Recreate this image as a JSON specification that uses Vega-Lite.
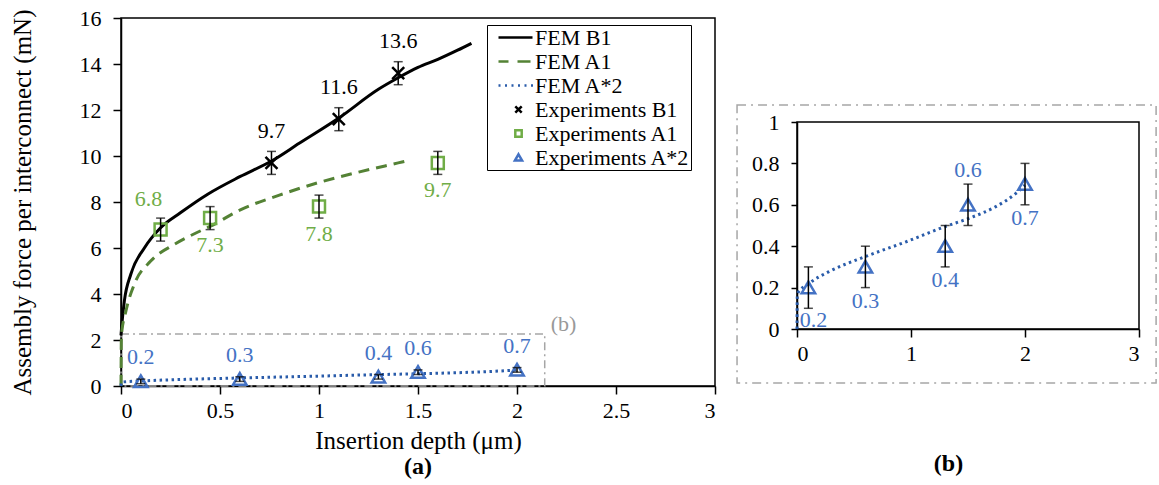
{
  "$schema": "https://vega.github.io/schema/vega-lite/v6.json",
  "background": "white",
  "padding": {"left": 9, "top": 6, "right": 0, "bottom": 0},
  "config": {
    "font": "Liberation Serif",
    "view": {"stroke": "black", "strokeWidth": 1.5},
    "axis": {"labelFont": "Liberation Serif", "titleFont": "Liberation Serif", "labelFontSize": 22, "titleFontSize": 25, "labelColor": "black", "titleColor": "black", "domainColor": "black", "tickColor": "black", "grid": false, "tickSize": 8, "labelPadding": 12, "titleFontWeight": "normal", "domainWidth": 1.5, "tickWidth": 1.5},
    "concat": {"spacing": 18}
  },
  "datasets": {
    "fem": [
      {"series": "FEM B1", "x": 0, "y": 2.2}, {"series": "FEM B1", "x": 0.005, "y": 2.75}, {"series": "FEM B1", "x": 0.017, "y": 3.7}, {"series": "FEM B1", "x": 0.05, "y": 4.87}, {"series": "FEM B1", "x": 0.118, "y": 6.0}, {"series": "FEM B1", "x": 0.2, "y": 6.88}, {"series": "FEM B1", "x": 0.3, "y": 7.53}, {"series": "FEM B1", "x": 0.44, "y": 8.35}, {"series": "FEM B1", "x": 0.6, "y": 9.1}, {"series": "FEM B1", "x": 0.76, "y": 9.78}, {"series": "FEM B1", "x": 0.9, "y": 10.55}, {"series": "FEM B1", "x": 1.1, "y": 11.65}, {"series": "FEM B1", "x": 1.3, "y": 12.9}, {"series": "FEM B1", "x": 1.4, "y": 13.4}, {"series": "FEM B1", "x": 1.5, "y": 13.85}, {"series": "FEM B1", "x": 1.6, "y": 14.2}, {"series": "FEM B1", "x": 1.7, "y": 14.6}, {"series": "FEM B1", "x": 1.77, "y": 14.9},
      {"series": "FEM A1", "x": 0, "y": 0}, {"series": "FEM A1", "x": 0.002, "y": 2.2}, {"series": "FEM A1", "x": 0.025, "y": 3.26}, {"series": "FEM A1", "x": 0.067, "y": 4.42}, {"series": "FEM A1", "x": 0.15, "y": 5.43}, {"series": "FEM A1", "x": 0.27, "y": 6.16}, {"series": "FEM A1", "x": 0.4, "y": 6.74}, {"series": "FEM A1", "x": 0.455, "y": 6.96}, {"series": "FEM A1", "x": 0.6, "y": 7.65}, {"series": "FEM A1", "x": 0.8, "y": 8.3}, {"series": "FEM A1", "x": 1.0, "y": 8.85}, {"series": "FEM A1", "x": 1.2, "y": 9.3}, {"series": "FEM A1", "x": 1.4, "y": 9.7}, {"series": "FEM A1", "x": 1.45, "y": 9.8},
      {"series": "FEM A*2", "x": 0, "y": 0}, {"series": "FEM A*2", "x": 0.003, "y": 0.17}, {"series": "FEM A*2", "x": 0.105, "y": 0.22}, {"series": "FEM A*2", "x": 0.28, "y": 0.277}, {"series": "FEM A*2", "x": 0.6, "y": 0.35}, {"series": "FEM A*2", "x": 0.95, "y": 0.42}, {"series": "FEM A*2", "x": 1.3, "y": 0.495}, {"series": "FEM A*2", "x": 1.51, "y": 0.535}, {"series": "FEM A*2", "x": 1.74, "y": 0.59}, {"series": "FEM A*2", "x": 1.92, "y": 0.655}, {"series": "FEM A*2", "x": 2.0, "y": 0.695}
    ],
    "exp": [
      {"series": "Experiments B1", "x": 0.76, "y": 9.7, "lo": 9.2, "hi": 10.2},
      {"series": "Experiments B1", "x": 1.1, "y": 11.6, "lo": 11.1, "hi": 12.1},
      {"series": "Experiments B1", "x": 1.4, "y": 13.6, "lo": 13.1, "hi": 14.1},
      {"series": "Experiments A1", "x": 0.2, "y": 6.8, "lo": 6.3, "hi": 7.3},
      {"series": "Experiments A1", "x": 0.45, "y": 7.3, "lo": 6.8, "hi": 7.8},
      {"series": "Experiments A1", "x": 1.0, "y": 7.8, "lo": 7.3, "hi": 8.3},
      {"series": "Experiments A1", "x": 1.6, "y": 9.7, "lo": 9.2, "hi": 10.2},
      {"series": "Experiments A*2", "x": 0.1, "y": 0.2, "lo": 0.1, "hi": 0.3},
      {"series": "Experiments A*2", "x": 0.6, "y": 0.3, "lo": 0.2, "hi": 0.4},
      {"series": "Experiments A*2", "x": 1.3, "y": 0.4, "lo": 0.3, "hi": 0.5},
      {"series": "Experiments A*2", "x": 1.5, "y": 0.6, "lo": 0.5, "hi": 0.7},
      {"series": "Experiments A*2", "x": 2.0, "y": 0.7, "lo": 0.6, "hi": 0.8}
    ],
    "zoomBox": [{"x": 0, "x2": 2.14, "y": 0, "y2": 2.26, "label": "(b)"}],
    "insetBox": [{"x": -0.526, "x2": 3.15, "y": -0.261, "y2": 1.082}]
  },
  "resolve": {"scale": {"color": "independent", "shape": "independent"}, "legend": {"color": "independent", "shape": "independent"}},
  "hconcat": [
    {
      "width": 594,
      "height": 368,
      "title": {"text": "(a)", "orient": "bottom", "frame": "group", "offset": 2, "fontSize": 24, "fontWeight": "bold", "font": "Liberation Serif", "color": "black"},
      "encoding": {
        "x": {"field": "x", "type": "quantitative", "title": "Insertion depth (μm)", "scale": {"domain": [0, 3], "nice": false, "zero": false}, "axis": {"values": [0, 0.5, 1, 1.5, 2, 2.5, 3], "format": "~g", "titlePadding": 7, "labelPadding": 6}},
        "y": {"field": "y", "type": "quantitative", "title": "Assembly force per interconnect (mN)", "scale": {"domain": [0, 16], "nice": false, "zero": false}, "axis": {"values": [0, 2, 4, 6, 8, 10, 12, 14, 16], "titlePadding": 44}}
      },
      "layer": [
        {
          "data": {"name": "zoomBox"},
          "mark": {"type": "rect", "fill": null, "fillOpacity": 0, "stroke": "#a6a6a6", "strokeWidth": 1.5, "strokeDash": [8, 4, 2, 4]},
          "encoding": {"x2": {"field": "x2"}, "y2": {"field": "y2"}}
        },
        {
          "data": {"name": "zoomBox"},
          "mark": {"type": "text", "align": "left", "baseline": "middle", "dx": 6, "dy": -10, "fontSize": 22, "font": "Liberation Serif", "color": "#999999"},
          "encoding": {"x": {"field": "x2", "type": "quantitative", "title": "Insertion depth (μm)"}, "y": {"field": "y2", "type": "quantitative", "title": "Assembly force per interconnect (mN)"}, "text": {"field": "label"}}
        },
        {
          "data": {"name": "fem"},
          "transform": [{"filter": "datum.series == 'FEM B1'"}],
          "mark": {"type": "line", "color": "black", "strokeWidth": 3, "interpolate": "monotone"}
        },
        {
          "data": {"name": "fem"},
          "transform": [{"filter": "datum.series == 'FEM A1'"}],
          "mark": {"type": "line", "color": "#548235", "strokeWidth": 3, "strokeDash": [11, 7], "interpolate": "monotone"}
        },
        {
          "data": {"name": "fem"},
          "transform": [{"filter": "datum.series == 'FEM A*2'"}],
          "mark": {"type": "line", "color": "#2a5caa", "strokeWidth": 3, "strokeDash": [2.5, 3.5], "interpolate": "monotone"}
        },
        {
          "data": {"name": "exp"},
          "mark": {"type": "point", "filled": false, "size": 1400, "strokeWidth": 2.5, "opacity": 1},
          "encoding": {
            "color": {"field": "series", "type": "nominal",
              "scale": {"domain": ["FEM B1", "FEM A1", "FEM A*2", "Experiments B1", "Experiments A1", "Experiments A*2"], "range": ["#000000", "#548235", "#2a5caa", "#000000", "#70ad47", "#4472c4"]},
              "legend": {"title": null, "orient": "none", "legendX": 366, "legendY": 7, "strokeColor": "black", "fillColor": "white", "padding": 1, "symbolSize": 400, "symbolStrokeWidth": 2.5, "symbolOffset": 19, "labelOffset": 5, "labelFont": "Liberation Serif", "labelFontSize": 22, "labelColor": "black", "rowPadding": 1, "labelLimit": 300}},
            "shape": {"field": "series", "type": "nominal",
              "scale": {"domain": ["FEM B1", "FEM A1", "FEM A*2", "Experiments B1", "Experiments A1", "Experiments A*2"], "range": ["M-2,0H1.4", "M-2,0H-1M-0.1,0H1.2", "M-2,0h0.2M-1.35,0h0.2M-0.7,0h0.2M-0.05,0h0.2M0.6,0h0.2M1.25,0h0.2", "M-0.32,-0.32L0.32,0.32M-0.32,0.32L0.32,-0.32", "M-0.32,-0.32H0.32V0.32H-0.32Z", "M0,-0.32L0.36,0.3H-0.36Z"]},
              "legend": {"title": null, "orient": "none", "legendX": 366, "legendY": 7, "strokeColor": "black", "fillColor": "white", "padding": 1, "symbolSize": 400, "symbolStrokeWidth": 2.5, "symbolOffset": 19, "labelOffset": 5, "labelFont": "Liberation Serif", "labelFontSize": 22, "labelColor": "black", "rowPadding": 1, "labelLimit": 300}}
          }
        },
        {
          "data": {"name": "exp"},
          "mark": {"type": "errorbar", "ticks": true, "color": "black", "thickness": 1.5, "size": 9},
          "encoding": {"y": {"field": "lo", "type": "quantitative", "title": "Assembly force per interconnect (mN)"}, "y2": {"field": "hi"}}
        },
        {
          "data": {"name": "exp"},
          "transform": [{"filter": "datum.series == 'Experiments B1'"}],
          "mark": {"type": "text", "dy": -32, "fontSize": 22, "font": "Liberation Serif", "color": "black"},
          "encoding": {"text": {"field": "y", "type": "quantitative", "format": ".1f"}}
        },
        {
          "data": {"name": "exp"},
          "transform": [{"filter": "datum.series == 'Experiments A1' && datum.x < 0.3"}],
          "mark": {"type": "text", "dx": -12, "dy": -31, "fontSize": 22, "font": "Liberation Serif", "color": "#70ad47"},
          "encoding": {"text": {"field": "y", "type": "quantitative", "format": ".1f"}}
        },
        {
          "data": {"name": "exp"},
          "transform": [{"filter": "datum.series == 'Experiments A1' && datum.x > 0.3"}],
          "mark": {"type": "text", "dy": 27, "fontSize": 22, "font": "Liberation Serif", "color": "#70ad47"},
          "encoding": {"text": {"field": "y", "type": "quantitative", "format": ".1f"}}
        },
        {
          "data": {"name": "exp"},
          "transform": [{"filter": "datum.series == 'Experiments A*2'"}],
          "mark": {"type": "text", "dy": -24, "fontSize": 22, "font": "Liberation Serif", "color": "#4472c4"},
          "encoding": {"text": {"field": "y", "type": "quantitative", "format": ".1f"}}
        }
      ]
    },
    {
      "spacing": 0,
      "vconcat": [
        {
          "width": 342,
          "height": 85,
          "view": {"stroke": null},
          "data": {"name": "insetBox"},
          "mark": {"type": "point", "opacity": 0},
          "encoding": {}
        },
        {
          "width": 342,
          "height": 207,
          "encoding": {
            "x": {"field": "x", "type": "quantitative", "title": "(b)", "scale": {"domain": [0, 3], "nice": false, "zero": false}, "axis": {"values": [0, 1, 2, 3], "format": "~g", "titleFontWeight": "bold", "titleFontSize": 24, "titlePadding": 87, "titleX": 151, "labelPadding": 6}},
            "y": {"field": "y", "type": "quantitative", "title": null, "scale": {"domain": [0, 1], "nice": false, "zero": false}, "axis": {"values": [0, 0.2, 0.4, 0.6, 0.8, 1], "format": "~g", "labelPadding": 12, "tickSize": 6}}
          },
          "layer": [
            {
              "data": {"name": "insetBox"},
              "mark": {"type": "rect", "fill": null, "fillOpacity": 0, "stroke": "#a6a6a6", "strokeWidth": 1.5, "strokeDash": [9, 5, 2, 5], "clip": false},
              "encoding": {"x2": {"field": "x2"}, "y2": {"field": "y2"}}
            },
            {
              "data": {"name": "fem"},
              "transform": [{"filter": "datum.series == 'FEM A*2'"}],
              "mark": {"type": "line", "color": "#2a5caa", "strokeWidth": 3, "strokeDash": [2.5, 3.5], "interpolate": "monotone"}
            },
            {
              "data": {"name": "exp"},
              "transform": [{"filter": "datum.series == 'Experiments A*2'"}],
              "mark": {"type": "point", "filled": false, "size": 1400, "strokeWidth": 2.5, "opacity": 1, "color": "#4472c4", "shape": "M0,-0.32L0.36,0.3H-0.36Z"}
            },
            {
              "data": {"name": "exp"},
              "transform": [{"filter": "datum.series == 'Experiments A*2'"}],
              "mark": {"type": "errorbar", "ticks": true, "color": "black", "thickness": 1.5, "size": 9},
              "encoding": {"y": {"field": "lo", "type": "quantitative", "title": null}, "y2": {"field": "hi"}}
            },
            {
              "data": {"name": "exp"},
              "transform": [{"filter": "datum.series == 'Experiments A*2' && datum.x < 0.3"}],
              "mark": {"type": "text", "dx": 5, "dy": 32, "fontSize": 22, "font": "Liberation Serif", "color": "#4472c4"},
              "encoding": {"text": {"field": "y", "type": "quantitative", "format": ".1f"}}
            },
            {
              "data": {"name": "exp"},
              "transform": [{"filter": "datum.series == 'Experiments A*2' && datum.x > 0.3 && datum.y != 0.6"}],
              "mark": {"type": "text", "dy": 34, "fontSize": 22, "font": "Liberation Serif", "color": "#4472c4"},
              "encoding": {"text": {"field": "y", "type": "quantitative", "format": ".1f"}}
            },
            {
              "data": {"name": "exp"},
              "transform": [{"filter": "datum.series == 'Experiments A*2' && datum.y == 0.6"}],
              "mark": {"type": "text", "dy": -35, "fontSize": 22, "font": "Liberation Serif", "color": "#4472c4"},
              "encoding": {"text": {"field": "y", "type": "quantitative", "format": ".1f"}}
            }
          ]
        }
      ]
    }
  ]
}
